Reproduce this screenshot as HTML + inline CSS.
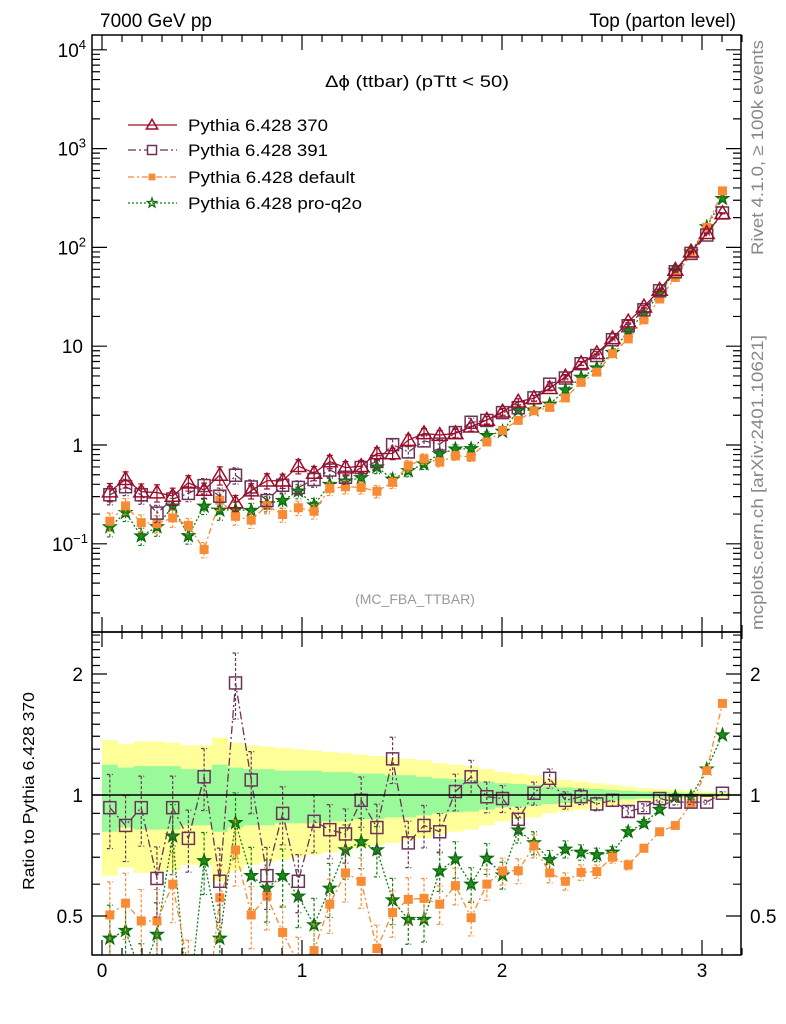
<!DOCTYPE html>
<html><head><meta charset="utf-8"><style>
html,body{margin:0;padding:0;background:#fff;}
svg{display:block;font-family:"Liberation Sans",sans-serif;}
</style></head><body>
<svg id="chart" width="786" height="1024" viewBox="0 0 786 1024" xmlns="http://www.w3.org/2000/svg">
<defs>
<clipPath id="cm"><rect x="92" y="35" width="649" height="597"/></clipPath>
<clipPath id="cr"><rect x="92" y="632" width="649" height="323"/></clipPath>
</defs>
<text x="100" y="27" font-size="19">7000 GeV pp</text>
<text x="736" y="27" font-size="19" text-anchor="end">Top (parton level)</text>
<text transform="translate(763,255) rotate(-90)" font-size="17" fill="#888" textLength="215" lengthAdjust="spacingAndGlyphs">Rivet 4.1.0, ≥ 100k events</text>
<text transform="translate(763,630) rotate(-90)" font-size="17" fill="#888" textLength="295" lengthAdjust="spacingAndGlyphs">mcplots.cern.ch [arXiv:2401.10621]</text>
<text x="325" y="87" font-size="17" textLength="184" lengthAdjust="spacingAndGlyphs">Δϕ (ttbar) (pTtt &lt; 50)</text>
<text x="415" y="604" font-size="14" fill="#999" text-anchor="middle">(MC_FBA_TTBAR)</text>
<text transform="translate(34,890) rotate(-90)" font-size="16" textLength="198" lengthAdjust="spacingAndGlyphs">Ratio to Pythia 6.428 370</text>
<g id="bands" clip-path="url(#cr)"></g>
<g id="mainp" clip-path="url(#cm)"></g>
<g id="ratiop" clip-path="url(#cr)"></g>
<g id="axes"></g>
<g id="legend"></g>
</svg>
<script>
// ---- data ----
const nBins = 40;
const refValues = [0.337,0.45,0.337,0.33,0.305,0.415,0.35,0.497,0.26,0.345,0.435,0.435,0.61,0.52,0.68,0.59,0.61,0.82,0.82,1.12,1.31,1.26,1.31,1.53,1.79,2.17,2.74,2.97,3.75,4.91,6.71,8.47,12.0,17.7,25.1,37.1,59.0,90.5,139,221];
const ratio391 = [0.93,0.84,0.93,0.62,0.93,0.78,1.11,0.61,1.90,1.09,0.63,0.90,0.61,0.86,0.82,0.80,0.97,0.83,1.23,0.76,0.84,0.81,1.02,1.11,0.99,0.98,0.87,1.01,1.10,0.97,0.99,0.95,0.97,0.91,0.93,0.98,0.96,0.96,0.96,1.01];
const ratioDefault = [0.503,0.538,0.486,0.486,0.60,0.37,0.25,0.555,0.73,0.503,0.56,0.455,0.38,0.41,0.535,0.64,0.61,0.415,0.51,0.55,0.553,0.535,0.595,0.495,0.60,0.647,0.648,0.747,0.64,0.61,0.642,0.645,0.70,0.67,0.737,0.81,0.84,0.95,1.15,1.69];
const ratioProQ2o = [0.44,0.46,0.356,0.45,0.79,0.29,0.686,0.44,0.853,0.63,0.586,0.63,0.56,0.475,0.586,0.73,0.765,0.73,0.548,0.49,0.49,0.647,0.693,0.60,0.696,0.632,0.818,0.76,0.69,0.733,0.72,0.71,0.72,0.81,0.85,0.92,0.99,0.99,1.16,1.41];
const bandGreen = [0.19,0.17,0.18,0.18,0.18,0.16,0.16,0.19,0.17,0.16,0.16,0.15,0.15,0.15,0.14,0.14,0.13,0.13,0.12,0.12,0.11,0.10,0.095,0.09,0.08,0.07,0.065,0.06,0.05,0.045,0.04,0.035,0.03,0.025,0.02,0.018,0.015,0.012,0.01,0.008];
const bandYellow = [0.37,0.34,0.36,0.36,0.35,0.33,0.33,0.39,0.35,0.33,0.32,0.31,0.30,0.29,0.28,0.27,0.26,0.25,0.24,0.23,0.22,0.20,0.19,0.18,0.16,0.14,0.13,0.12,0.10,0.09,0.08,0.07,0.06,0.05,0.04,0.035,0.03,0.025,0.02,0.016];
const mainTicks = [[1e4,"10","4"],[1e3,"10","3"],[1e2,"10","2"],[10,"10",""],[1,"1",""],[0.1,"10","−1"]];
const ratioTicks = [0.5,1,2];
const xTicks = [0,1,2,3];

// ---- axes functions ----
const NS="http://www.w3.org/2000/svg";
const L=92,R=741,T=35,MB=632,RB=955;
const xs=x=>102+200*x;
const ym=v=>445-98.8*Math.log10(v);
const yr=r=>795-121*Math.log2(r);
const bw=Math.PI/nBins;
function mk(tag,attrs,parent){const e=document.createElementNS(NS,tag);for(const k in attrs)e.setAttribute(k,attrs[k]);parent.appendChild(e);return e;}
const bands=document.getElementById('bands'),mainp=document.getElementById('mainp'),ratiop=document.getElementById('ratiop'),axes=document.getElementById('axes'),legend=document.getElementById('legend');

function bandPath(arr){let up="",lo=[];for(let i=0;i<nBins;i++){const x0=xs(i*bw),x1=xs((i+1)*bw);up+=(i?"L":"M")+x0+","+yr(1+arr[i])+"L"+x1+","+yr(1+arr[i]);lo.unshift("L"+x1+","+yr(1-arr[i])+"L"+x0+","+yr(1-arr[i]));}return up+lo.join("")+"Z";}
const by=mk('path',{d:bandPath(bandYellow),fill:'#ffff9a'},bands);


const bg=mk('path',{d:bandPath(bandGreen),fill:'#9afa9a'},bands);



function marker(g,type,cx,cy,color,sc,legendStyle){
  sc=sc||1;
  let e;
  if(type==='tri'){const s=7.5*sc;e=mk('polygon',{points:`${cx},${cy-s} ${cx-s},${cy+s*0.7} ${cx+s},${cy+s*0.7}`,fill:'none',stroke:color,'stroke-width':1.5},g);}
  else if(type==='sq'){const h=6*sc;e=mk('rect',{x:cx-h,y:cy-h,width:2*h,height:2*h,fill:'none',stroke:color,'stroke-width':1.5},g);}
  else if(type==='fsq'){const h=4.5*sc;e=mk('rect',{x:cx-h,y:cy-h,width:2*h,height:2*h,fill:color},g);}
  else {let p=[];for(let k=0;k<10;k++){const a=-Math.PI/2+k*Math.PI/5,r=(k%2?2.6:6.5)*sc;p.push((cx+r*Math.cos(a)).toFixed(1)+","+(cy+r*Math.sin(a)).toFixed(1));}e=mk('polygon',{points:p.join(" "),fill:legendStyle?'none':'#1e8c1e',stroke:'#0b6a0b','stroke-width':1.3},g);}
  return e;
}
const series=[
 {name:'Pythia 6.428 370',ratio:null,color:'#9c0d2a',dash:'',type:'tri',key:'pythia-370',tl:140},
 {name:'Pythia 6.428 391',ratio:ratio391,color:'#6b3358',dash:'8,3,2,3',type:'sq',key:'pythia-391',tl:140},
 {name:'Pythia 6.428 default',ratio:ratioDefault,color:'#f88b34',dash:'6,3,2,3',type:'fsq',key:'pythia-default',tl:167},
 {name:'Pythia 6.428 pro-q2o',ratio:ratioProQ2o,color:'#117d11',dash:'2,2',type:'star',key:'pythia-pro-q2o',tl:174}
];
[3,2,1,0].forEach(si=>{
  const s=series[si];
  const vals=refValues.map((v,i)=>s.ratio?v*s.ratio[i]:v);
  const gm=mk('g',{},mainp);
  
  
  let d="";
  vals.forEach((v,i)=>{const x=xs((i+0.5)*bw);d+=(i?"L":"M")+x+","+ym(v);});
  mk('path',{d:d,fill:'none',stroke:s.color,'stroke-width':1.3,'stroke-dasharray':s.dash},gm);
  vals.forEach((v,i)=>{
    const x=xs((i+0.5)*bw),e=bandGreen[i]*1.1;
    mk('path',{d:`M${x},${ym(v*(1+e))}V${ym(Math.max(v*(1-e),1e-3))}M${x-3},${ym(v*(1+e))}h6M${x-3},${ym(v*(1-e))}h6`,stroke:s.color,'stroke-width':1.2,'stroke-dasharray':s.dash?'3,2':''},gm);
    const m=marker(gm,s.type,x,ym(v),s.color);
    
    
  });
  if(s.ratio){
    const gr=mk('g',{},ratiop);
    
    
    let d2="";
    s.ratio.forEach((r,i)=>{const x=xs((i+0.5)*bw);d2+=(i?"L":"M")+x+","+yr(r);});
    mk('path',{d:d2,fill:'none',stroke:s.color,'stroke-width':1.3,'stroke-dasharray':s.dash},gr);
    s.ratio.forEach((r,i)=>{
      const x=xs((i+0.5)*bw),e=bandGreen[i]*1.1;
      mk('path',{d:`M${x},${yr(r*(1+e))}V${yr(r*(1-e))}M${x-3},${yr(r*(1+e))}h6M${x-3},${yr(r*(1-e))}h6`,stroke:s.color,'stroke-width':1.2,'stroke-dasharray':'3,2'},gr);
      const m=marker(gr,s.type,x,yr(r),s.color);
      
      
    });
  }
});
const ref=mk('line',{x1:L,x2:R,y1:yr(1),y2:yr(1),stroke:'#000','stroke-width':1.5},ratiop);



const f1=mk('rect',{x:L,y:T,width:R-L,height:MB-T,fill:'none',stroke:'#000','stroke-width':1.5},axes);


const f2=mk('rect',{x:L,y:MB,width:R-L,height:RB-MB,fill:'none',stroke:'#000','stroke-width':1.5},axes);


let td="";
for(let e=-1;e<=4;e++){for(let m=1;m<10;m++){const v=m*Math.pow(10,e);const y=ym(v);if(y<T||y>MB)continue;const len=m===1?15:8;td+=`M${L},${y}h${len}M${R},${y}h${-len}`;}}
for(let m=2;m<10;m++){const y=ym(m*0.01);if(y<=MB)td+=`M${L},${y}h8M${R},${y}h-8`;}
for(let k=3;k<=25;k++){const r=k/10;const y=yr(r);if(y<MB||y>RB)continue;const len=(r===0.5||r===1||r===2)?15:8;td+=`M${L},${y}h${len}M${R},${y}h${-len}`;}
for(let k=0;k<=32;k++){const x=xs(k/10);const len=k%10===0?15:7;td+=`M${x},${RB}v${-len}M${x},${MB}v${len}M${x},${MB}v${-len}M${x},${T}v${len}`;}
const tk=mk('path',{d:td,stroke:'#000','stroke-width':1.2,fill:'none'},axes);


mainTicks.forEach(t=>{
  const tx=mk('text',{x:83,y:ym(t[0])+7,'font-size':19,'text-anchor':'end'},axes);
  
  
  if(t[2]){tx.textContent=t[1];const ts=mk('tspan',{'font-size':13,dy:-8},tx);ts.textContent=t[2];tx.setAttribute('x',t[2].length>1?88:86);}else tx.textContent=t[1];
});
ratioTicks.forEach(r=>{
  [[83,'end'],[750,'start']].forEach(p=>{
    const tx=mk('text',{x:p[0],y:yr(r)+7,'font-size':19,'text-anchor':p[1]},axes);
    
    
    tx.textContent=String(r);
  });
});
xTicks.forEach(v=>{
  const tx=mk('text',{x:xs(v),y:977,'font-size':19,'text-anchor':'middle'},axes);
  
  
  tx.textContent=String(v);
});
const ly=[125,150,177,203];
series.forEach((s,i)=>{
  const g=mk('g',{},legend);
  
  
  mk('line',{x1:128,x2:177,y1:ly[i],y2:ly[i],stroke:s.color,'stroke-width':1.3,'stroke-dasharray':s.dash},g);
  const m=marker(g,s.type,152,ly[i],s.color,0.75,true);
  if(s.type!=='tri'&&s.type!=='star')m.setAttribute('fill',s.type==='fsq'?s.color:'#fff');
  const t=mk('text',{x:188,y:ly[i]+6,'font-size':17,textLength:s.tl,lengthAdjust:'spacingAndGlyphs'},g);
  t.textContent=s.name;
});
</script>
</body></html>
